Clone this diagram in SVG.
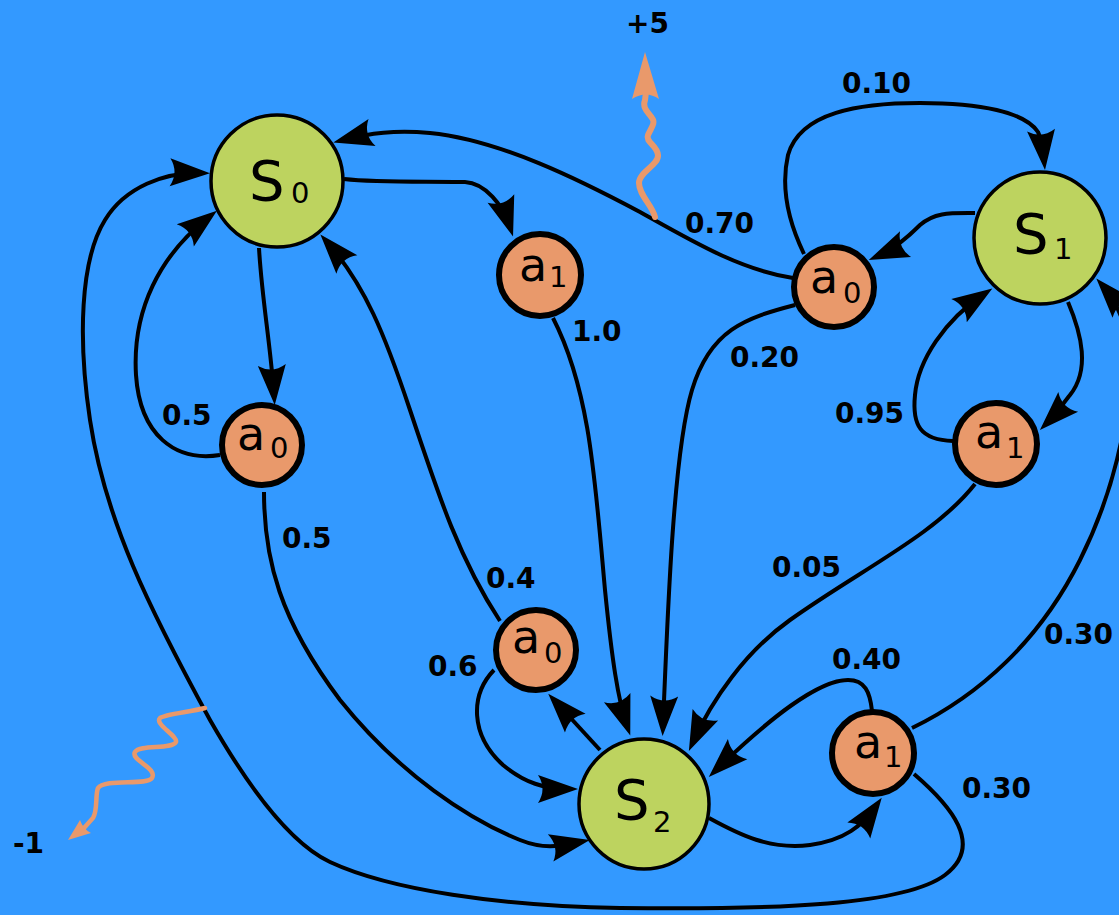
<svg xmlns="http://www.w3.org/2000/svg" width="1119" height="915" viewBox="0 0 1119 915">
<style>
.bg{fill:#3399ff}
.st circle{fill:#bdd35f;stroke:#000;stroke-width:3.5}
.ac circle{fill:#e9996b;stroke:#000;stroke-width:6}
.big{font-family:"DejaVu Sans",sans-serif;font-size:56px;fill:#000}
.sub{font-family:"DejaVu Sans",sans-serif;font-size:29px;fill:#000}
.act{font-family:"DejaVu Sans",sans-serif;font-size:46px;fill:#000}
.lbl{font-family:"DejaVu Sans",sans-serif;font-weight:bold;font-size:28px;fill:#000}
#connectors path.e{fill:none;stroke:#000;stroke-width:4;marker-end:url(#ah)}
#connectors path.w{fill:none;stroke:#e9996b;stroke-width:6;stroke-linecap:round}
#connectors path.w2{fill:none;stroke:#e9996b;stroke-width:4.5;stroke-linecap:round}
#connectors path.wh{fill:#e9996b;stroke:none}
</style>
<defs>
<marker id="ah" markerUnits="userSpaceOnUse" orient="auto" overflow="visible" markerWidth="44" markerHeight="30" viewBox="-32 -15 44 30" refX="0" refY="0">
<path d="M10 0 L-30 -14 Q-21 0 -30 14 Z" fill="#000"/>
</marker>
</defs>
<rect class="bg" x="0" y="0" width="1119" height="915"/>
<g id="connectors">
<!-- S0 -> a1 -->
<path class="e" d="M344 179 C380 183 430 181 465 182 C485 183 503 205 510 227"/>
<!-- a1 -> S2 (1.0) -->
<path class="e" d="M553 318 C590 390 595 480 605 590 C612 660 618 700 627 726"/>
<!-- a0(top) -> S2 (0.20) -->
<path class="e" d="M795 305 C745 318 710 330 692 390 C674 450 668 600 663 726"/>
<!-- a1(right) -> S2 (0.05) -->
<path class="e" d="M975 484 C935 535 860 570 790 620 C745 652 712 700 693 742"/>
<!-- a1(bottom) -> S2 (0.40) -->
<path class="e" d="M872 711 C870 692 865 680 848 680 C818 680 770 718 716 770"/>
<!-- S2 -> a1(bottom) -->
<path class="e" d="M709 818 C740 835 770 850 810 845 C845 840 862 826 876 806"/>
<!-- S2 -> a0(bottom) -->
<path class="e" d="M600 750 L555 701"/>
<!-- a0(bottom) -> S2 (0.6) -->
<path class="e" d="M494 670 C470 695 470 735 503 765 C525 783 545 789 568 789"/>
<!-- a0(bottom) -> S0 (0.4) -->
<path class="e" d="M500 621 C460 560 440 500 410 410 C385 335 365 285 327 242"/>
<!-- S0 -> a0(left) -->
<path class="e" d="M259 248 C262 300 270 340 274 395"/>
<!-- a0(left) -> S0 (0.5) -->
<path class="e" d="M220 455 C175 462 140 435 136 375 C132 310 160 255 209 217"/>
<!-- a0(left) -> S2 (0.5) -->
<path class="e" d="M264 492 C264 560 280 620 340 700 C400 775 470 820 520 840 C545 850 560 846 580 842"/>
<!-- a1(bottom) -> S0 (0.30) -->
<path class="e" d="M914 774 C950 805 985 845 945 875 C905 905 780 910 620 908 C500 906 390 890 330 862 C290 843 250 790 210 720 C150 610 105 520 90 420 C78 340 80 260 105 220 C125 187 165 172 200 173"/>
<!-- a1(bottom) -> S1 (0.30) -->
<path class="e" d="M912 728 C980 695 1040 640 1080 560 C1110 500 1125 440 1130 380 C1133 340 1120 305 1103 286"/>
<!-- a0(top) -> S0 (0.70) -->
<path class="e" d="M793 278 C740 270 690 240 640 212 C580 180 500 140 430 133 C395 130 370 133 343 140"/>
<!-- a0(top) -> S1 (0.10) -->
<path class="e" d="M804 254 C790 225 780 190 788 155 C800 112 860 103 920 103 C980 103 1025 112 1038 132 C1042 140 1043 150 1044 160"/>
<!-- S1 -> a0(top) -->
<path class="e" d="M975 213 C950 213 935 212 920 225 C905 240 892 250 878 256"/>
<!-- S1 -> a1(right) -->
<path class="e" d="M1068 302 C1082 335 1090 370 1070 395 C1062 405 1055 415 1047 423"/>
<!-- a1(right) -> S1 (0.95) -->
<path class="e" d="M953 441 C920 440 912 425 915 395 C918 360 945 320 984 294"/>
<!-- reward +5 -->
<path class="w" d="M655 217 C652 205 639 195 639 183 C639 172 659 165 658 155 C657 145 645 142 648 135 C651 128 656 123 652 118 C648 112 642 108 645 100 L646 92"/>
<path class="wh" d="M645 52 L659 99 Q646 90 632 99 Z"/>
<!-- reward -1 -->
<path class="w2" d="M205 708 C190 712 165 714 160 718 C154 724 178 736 176 742 C172 750 140 744 135 752 C130 760 158 768 152 778 C147 786 105 778 98 788 C95 795 98 810 93 818 L84 828"/>
<path class="wh" d="M68 840 L80 820 Q83 829 91 833 Z"/>
</g>
<g id="S0" class="st"><circle cx="277" cy="181" r="66"/><text class="big" x="249" y="200">S</text><text class="sub" x="291" y="203">0</text></g>
<g id="S1" class="st"><circle cx="1040" cy="238" r="66"/><text class="big" x="1013" y="253">S</text><text class="sub" x="1054" y="259">1</text></g>
<g id="S2" class="st"><circle cx="644" cy="804" r="65"/><text class="big" x="614" y="819">S</text><text class="sub" x="653" y="832">2</text></g>
<g id="a1top" class="ac"><circle cx="540" cy="275" r="41"/><text class="act" x="519" y="281">a</text><text class="sub" x="549" y="287">1</text></g>
<g id="a0top" class="ac"><circle cx="834" cy="287" r="40"/><text class="act" x="810" y="293">a</text><text class="sub" x="843" y="303">0</text></g>
<g id="a0left" class="ac"><circle cx="262" cy="445" r="40"/><text class="act" x="237" y="450">a</text><text class="sub" x="270" y="458">0</text></g>
<g id="a1right" class="ac"><circle cx="996" cy="444" r="41"/><text class="act" x="975" y="448">a</text><text class="sub" x="1006" y="458">1</text></g>
<g id="a0bottom" class="ac"><circle cx="536" cy="650" r="40"/><text class="act" x="512" y="653">a</text><text class="sub" x="544" y="663">0</text></g>
<g id="a1bottom" class="ac"><circle cx="873" cy="753" r="41"/><text class="act" x="854" y="758">a</text><text class="sub" x="884" y="767">1</text></g>
<g id="labels">
<text class="lbl" x="626" y="33">+5</text>
<text class="lbl" x="842" y="93">0.10</text>
<text class="lbl" x="685" y="233">0.70</text>
<text class="lbl" x="572" y="341">1.0</text>
<text class="lbl" x="730" y="367">0.20</text>
<text class="lbl" x="835" y="423">0.95</text>
<text class="lbl" x="162" y="425">0.5</text>
<text class="lbl" x="282" y="548">0.5</text>
<text class="lbl" x="772" y="577">0.05</text>
<text class="lbl" x="486" y="588">0.4</text>
<text class="lbl" x="428" y="676">0.6</text>
<text class="lbl" x="832" y="669">0.40</text>
<text class="lbl" x="1044" y="644">0.30</text>
<text class="lbl" x="962" y="798">0.30</text>
<text class="lbl" x="13" y="853">-1</text>
</g>
</svg>
